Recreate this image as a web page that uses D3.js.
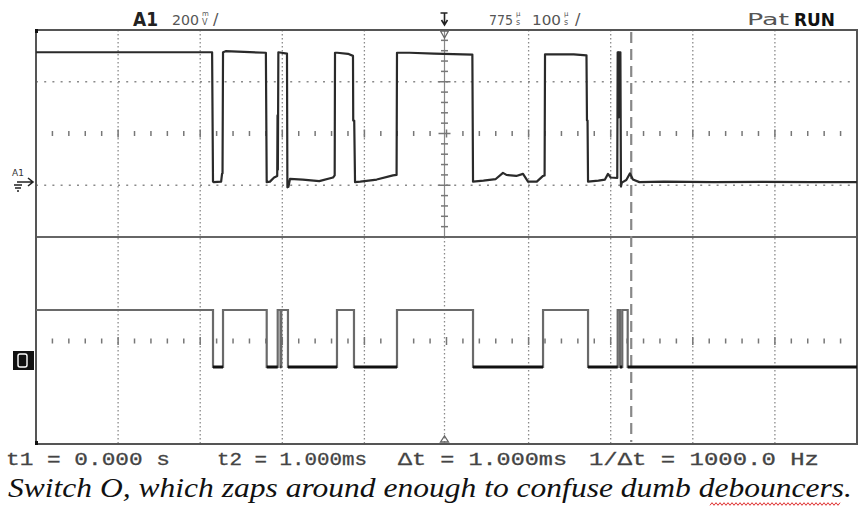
<!DOCTYPE html>
<html>
<head>
<meta charset="utf-8">
<script src="https://cdn.jsdelivr.net/npm/d3@7"></script>
<style>
  body { margin: 0; background: #fff; }
</style>
</head>
<body>
<div id="scope"></div>
<script>
// Time base: 100us/div, 775us delay at centre -> screen spans 275..1275 us
const timeDomain = [275, 1275];
const gridTimes = [375, 475, 575, 675, 875, 975, 1075, 1175];
const centreTime = 775;
const cursorTime = 1000;

// A1 analog channel, 200mV/div (time us, level mV)
const analogT = [275, 489.5, 490.6, 491.5, 500.5, 501.6, 502.2, 502.8, 506, 555,
  556, 560, 565, 568.8, 569.2, 569.6, 570.2, 580.7, 581.2, 582.5,
  584.4, 600, 620, 636.8, 638.8, 639.2, 642, 655, 661.1, 661.4,
  662.6, 663.6, 670, 690, 709.8, 714.2, 714.7, 730, 760, 806.5,
  807.3, 820, 835, 843.8, 848, 860, 868.2, 874.3, 885, 892.6,
  894.5, 895, 930, 945.5, 946.1, 946.8, 947.4, 960, 968, 971.7,
  975, 983, 983.5, 984.2, 984.5, 984.8, 986.8, 987.5, 988.5, 994,
  998.5, 1002, 1010, 1040, 1100, 1160, 1220, 1275];
const analogMv = [514, 514, 14, 12, 14, 44, 46, 514, 518, 512,
  12, 14, 30, 36, 270, 60, 514, 509, -8, -6,
  25, 22, 16, 30, 38, 512, 512, 508, 500, 250,
  250, 12, 14, 22, 38, 40, 512, 512, 509, 505,
  14, 18, 24, 48, 40, 36, 44, 14, 14, 36,
  38, 506, 506, 502, 250, 250, 14, 18, 22, 44,
  30, 28, 514, 514, 262, 514, 514, -5, 10, 20,
  46, 22, 12, 14, 12, 13, 12, 12];
const analogDomain = [-200, 600];
const analogGrid = [0, 200, 400];

// D0 digital channel: start level and edge times (us)
const digitalStart = 1;
const digitalEdges = [490.6, 502.8, 556.0, 569.4, 572.8, 573.7, 581.9, 641.6, 662.3, 714.7,
  807.3, 892.6, 947.4, 983.5, 986.3, 989.1, 995.7];

const readouts = ["t1 = 0.000 s", "t2 = 1.000ms", "\u0394t = 1.000ms", "1/\u0394t = 1000.0 Hz"];
const caption = "Switch O, which zaps around enough to confuse dumb debouncers.";

const svgWidth = 864, svgHeight = 508;
const scr = { left: 36, right: 857, top: 30, bottom: 444, split: 237 };
const SANS = "'DejaVu Sans', sans-serif";

const svg = d3.select("#scope").append("svg")
  .attr("width", svgWidth).attr("height", svgHeight)
  .style("font-family", SANS);

const x = d3.scaleLinear().domain(timeDomain).range([scr.left, scr.right]);
const yA = d3.scaleLinear().domain(analogDomain).range([scr.split, scr.top]);
const yD = d3.scaleLinear().domain([0, 1]).range([367, 310]);

// graticule
const grid = svg.append("g");
grid.selectAll(".vgrid").data(gridTimes).enter().append("line")
  .attr("x1", d => x(d)).attr("x2", d => x(d))
  .attr("y1", scr.top).attr("y2", scr.bottom)
  .attr("stroke", "#8a8a8a").attr("stroke-width", 1.3)
  .attr("stroke-dasharray", "1.5,2.5");

// fine dotted horizontal lines (0 and 400 mV)
grid.selectAll(".hgrid").data(analogGrid.filter(d => d !== 200)).enter().append("line")
  .attr("x1", scr.left).attr("x2", scr.right)
  .attr("y1", d => yA(d)).attr("y2", d => yA(d))
  .attr("stroke", "#8a8a8a").attr("stroke-width", 1.5)
  .attr("stroke-dasharray", "2,6.2");

// tick rows: analog centre (200mV) and digital middle
const tickTimes = d3.range(timeDomain[0] + 20, timeDomain[1], 20);
[yA(200), 341].forEach(yy => {
  grid.append("g").selectAll("line").data(tickTimes).enter().append("line")
    .attr("x1", d => x(d)).attr("x2", d => x(d))
    .attr("y1", d => yy - ((d - 275) % 100 === 0 ? 4 : 2.5))
    .attr("y2", d => yy + ((d - 275) % 100 === 0 ? 4 : 2.5))
    .attr("stroke", "#777").attr("stroke-width", 1.5);
});

// centre time axis with minor ticks in analog area
const cx = x(centreTime) - 2;
grid.append("line")
  .attr("x1", cx).attr("x2", cx).attr("y1", scr.top).attr("y2", scr.split)
  .attr("stroke", "#888").attr("stroke-width", 1.2);
grid.append("line")
  .attr("x1", cx).attr("x2", cx).attr("y1", scr.split).attr("y2", scr.bottom)
  .attr("stroke", "#8a8a8a").attr("stroke-width", 1.3).attr("stroke-dasharray", "1.5,2.5");
grid.append("g").selectAll("line").data(d3.range(analogDomain[0] + 40, analogDomain[1], 40)).enter()
  .append("line")
  .attr("x1", d => cx - (d % 200 === 0 ? 6 : 3.5)).attr("x2", d => cx + (d % 200 === 0 ? 6 : 3.5))
  .attr("y1", d => yA(d)).attr("y2", d => yA(d))
  .attr("stroke", "#777").attr("stroke-width", 1.5);

// split line and border
svg.append("line")
  .attr("x1", scr.left).attr("x2", scr.right).attr("y1", scr.split).attr("y2", scr.split)
  .attr("stroke", "#666").attr("stroke-width", 2);
svg.append("rect")
  .attr("x", scr.left).attr("y", scr.top)
  .attr("width", scr.right - scr.left).attr("height", scr.bottom - scr.top)
  .attr("fill", "none").attr("stroke", "#555").attr("stroke-width", 2);
svg.append("rect").attr("x", scr.left - 1).attr("y", scr.top - 1).attr("width", 3).attr("height", 4).attr("fill", "#111");
svg.append("rect").attr("x", scr.left - 1).attr("y", scr.bottom - 3).attr("width", 3).attr("height", 4).attr("fill", "#111");

// cursor
svg.append("line")
  .attr("x1", x(cursorTime)).attr("x2", x(cursorTime))
  .attr("y1", scr.top + 2).attr("y2", scr.bottom - 2)
  .attr("stroke", "#888").attr("stroke-width", 2.2)
  .attr("stroke-dasharray", "11,6");

// analog trace
const analogData = analogT.map((t, i) => [t, analogMv[i]]);
const analogLine = d3.line().x(d => x(d[0])).y(d => yA(d[1]));
svg.append("path").datum(analogData)
  .attr("d", analogLine)
  .attr("fill", "none").attr("stroke", "#2a2a2a").attr("stroke-width", 2.2)
  .attr("stroke-linejoin", "round");

// digital trace
const digitalData = [[timeDomain[0], digitalStart]];
let lvl = digitalStart;
digitalEdges.forEach(t => {
  digitalData.push([t, lvl]);
  lvl = 1 - lvl;
  digitalData.push([t, lvl]);
});
digitalData.push([timeDomain[1], lvl]);
const digitalLine = d3.line().x(d => x(d[0])).y(d => yD(d[1]));
svg.append("path").datum(digitalData)
  .attr("d", digitalLine)
  .attr("fill", "none").attr("stroke", "#6a6a6a").attr("stroke-width", 2.2);
// low segments drawn heavier
const lowSegs = [];
for (let i = 0; i < digitalData.length - 1; i++) {
  if (digitalData[i][1] === 0 && digitalData[i + 1][1] === 0) lowSegs.push([digitalData[i], digitalData[i + 1]]);
}
svg.append("g").selectAll("line").data(lowSegs).enter().append("line")
  .attr("x1", d => x(d[0][0])).attr("x2", d => x(d[1][0]))
  .attr("y1", yD(0)).attr("y2", yD(0))
  .attr("stroke", "#111").attr("stroke-width", 3);

// header
const hdr = svg.append("g").attr("fill", "#222");
hdr.append("text").attr("x", 133).attr("y", 26).attr("font-size", 19).attr("font-weight", "bold")
  .attr("textLength", 25).attr("lengthAdjust", "spacingAndGlyphs").text("A1");
function digits(px, w, s) {
  hdr.append("text").attr("x", px).attr("y", 25).attr("font-size", 14.5).attr("fill", "#555")
    .attr("textLength", w).attr("lengthAdjust", "spacingAndGlyphs").text(s);
}
// stacked unit glyph, one text with two lines
function stacked(px, top, bot) {
  const t = hdr.append("text").attr("x", px + 2).attr("y", 16).attr("fill", "#555");
  t.append("tspan").attr("font-size", 7).text(top);
  t.append("tspan").attr("x", px + 2).attr("dy", 9).attr("font-size", 8).text(bot);
}
digits(172, 27, "200");
stacked(200, "m", "V");
hdr.append("text").attr("x", 213).attr("y", 25).attr("font-size", 16).attr("fill", "#555").text("/");
digits(489, 24, "775");
stacked(514, "\u00b5", "s");
digits(532, 29, "100");
stacked(562, "\u00b5", "s");
hdr.append("text").attr("x", 575).attr("y", 25).attr("font-size", 16).attr("fill", "#555").text("/");
hdr.append("text").attr("x", 747).attr("y", 25).attr("font-size", 16).attr("fill", "#555")
  .attr("textLength", 42).attr("lengthAdjust", "spacingAndGlyphs").text("Pat");
hdr.append("text").attr("x", 794).attr("y", 26).attr("font-size", 18).attr("font-weight", "bold").attr("fill", "#111")
  .attr("textLength", 41).attr("lengthAdjust", "spacingAndGlyphs").text("RUN");

// trigger marker
const tx = x(centreTime) - 2;
svg.append("path")
  .attr("d", `M${tx - 4},13 L${tx + 3},13 M${tx},13 L${tx},24 M${tx - 3},20 L${tx},25 L${tx + 3},20`)
  .attr("fill", "none").attr("stroke", "#222").attr("stroke-width", 1.6);
svg.append("path")
  .attr("d", `M${tx - 4},31 L${tx + 4},31 L${tx},38 Z`)
  .attr("fill", "none").attr("stroke", "#666").attr("stroke-width", 1.3);
svg.append("path")
  .attr("d", `M${tx - 4},442 L${tx + 4},442 L${tx},436 Z`)
  .attr("fill", "none").attr("stroke", "#666").attr("stroke-width", 1.3);

// channel labels at left
svg.append("text").attr("x", 12).attr("y", 176).attr("font-size", 9).attr("fill", "#333").text("A1");
svg.append("path")
  .attr("d", `M17,182 L33,182 M28,178 L33,182 L28,186 M14,185 L22,185 M15,188 L21,188 M17,191 L19,191`)
  .attr("fill", "none").attr("stroke", "#222").attr("stroke-width", 1.6);
svg.append("rect").attr("x", 13).attr("y", 351).attr("width", 21).attr("height", 19).attr("fill", "#111");
svg.append("rect").attr("x", 18).attr("y", 354).attr("width", 9).attr("height", 13)
  .attr("rx", 2).attr("fill", "none").attr("stroke", "#fff").attr("stroke-width", 1.4);

// readouts
const readX = [6, 217, 398, 589];
const readW = [164, 150, 169, 230];
svg.append("g").selectAll("text").data(readouts).enter().append("text")
  .attr("x", (d, i) => readX[i]).attr("y", 465)
  .style("font-family", "'Liberation Mono', 'Courier New', monospace").attr("font-size", 19)
  .attr("fill", "#444").attr("stroke", "#444").attr("stroke-width", 0.3)
  .attr("textLength", (d, i) => readW[i]).attr("lengthAdjust", "spacingAndGlyphs")
  .text(d => d);

// caption
svg.append("text").attr("x", 8).attr("y", 497)
  .style("font-family", "'Liberation Serif', 'Times New Roman', serif").style("font-style", "italic")
  .attr("font-size", 27).attr("fill", "#111")
  .attr("textLength", 844).attr("lengthAdjust", "spacingAndGlyphs")
  .text(caption);

// spell-check squiggle under "debouncers"
const sq = [];
for (let px = 710, k = 0; px <= 840; px += 2, k++) sq.push([px, 504 + (k % 2 ? -1.3 : 1.3)]);
svg.append("path").attr("d", d3.line()(sq))
  .attr("fill", "none").attr("stroke", "#e03030").attr("stroke-width", 1);
</script>
</body>
</html>
